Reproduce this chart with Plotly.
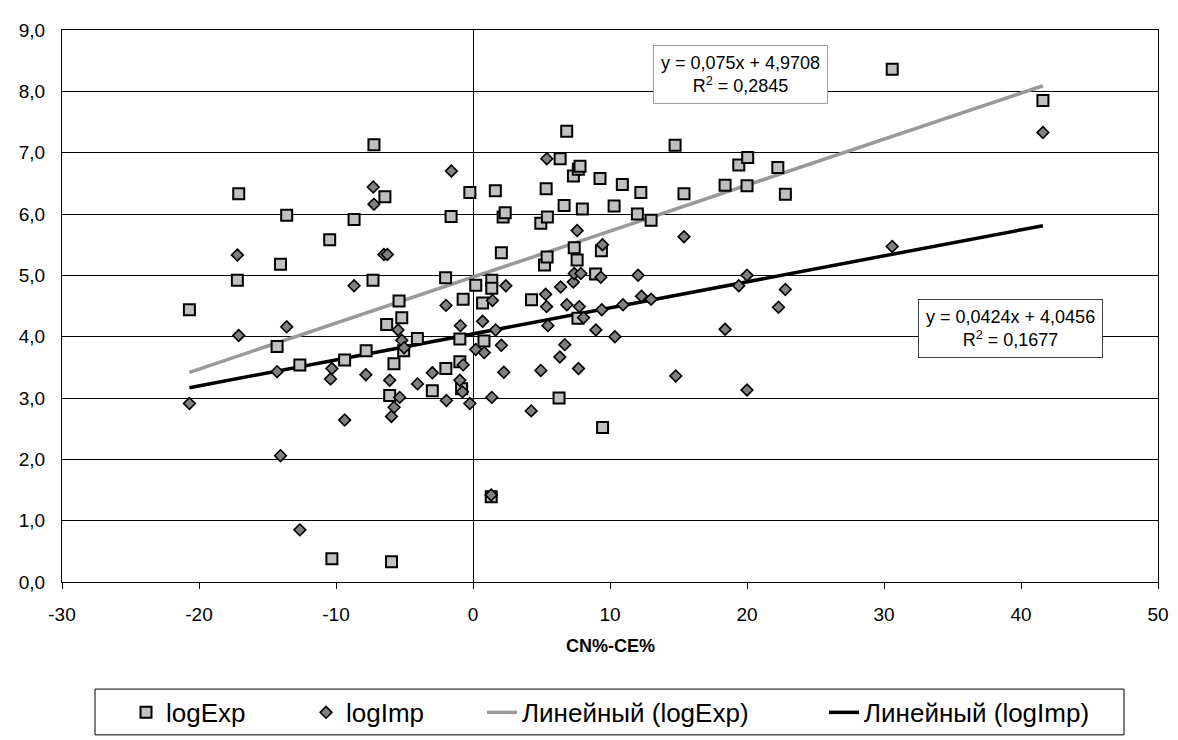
import plotly.graph_objects as go

# ---- data ----
exp_x = [-20.7, -17.1, -17.2, -14.05, -13.6, -14.3, -12.64, -10.46, -10.3, -9.37,
         -8.68, -7.8, -7.23, -7.3, -6.43, -6.3, -6.08, -5.95, -5.77, -5.4,
         -5.2, -5.06, -4.06, -2.97, -2.0, -1.98, -1.6, -0.96, -0.96, -0.83,
         -0.72, -0.23, 0.2, 0.7, 0.8, 1.37, 1.37, 1.33, 1.63, 2.07,
         2.2, 2.35, 4.27, 4.95, 5.22, 5.34, 5.41, 5.43, 6.28, 6.36,
         6.65, 6.84, 7.33, 7.39, 7.6, 7.66, 7.69, 7.81, 7.98, 8.95,
         9.27, 9.37, 9.46, 10.3, 10.9, 12.0, 12.25, 13.0, 14.75, 15.4,
         18.4, 19.4, 20.0, 20.05, 22.25, 22.8, 30.6, 41.6]
exp_y = [4.44, 6.33, 4.92, 5.18, 5.98, 3.84, 3.54, 5.58, 0.38, 3.62,
         5.91, 3.77, 7.13, 4.92, 6.28, 4.20, 3.04, 0.33, 3.56, 4.58,
         4.31, 3.77, 3.97, 3.12, 4.96, 3.48, 5.96, 3.96, 3.59, 3.15,
         4.61, 6.35, 4.84, 4.55, 3.93, 4.92, 4.79, 1.39, 6.38, 5.37,
         5.95, 6.02, 4.60, 5.85, 5.17, 6.41, 5.30, 5.95, 3.00, 6.90,
         6.14, 7.35, 6.62, 5.45, 5.25, 4.30, 6.73, 6.78, 6.08, 5.02,
         6.58, 5.40, 2.52, 6.13, 6.48, 6.00, 6.35, 5.90, 7.12, 6.33,
         6.47, 6.80, 6.46, 6.92, 6.76, 6.32, 8.36, 7.85]

imp_x = [-20.7, -17.2, -17.1, -14.3, -14.05, -13.6, -12.64, -10.3, -10.4, -9.37,
         -8.68, -7.82, -7.28, -7.23, -6.5, -6.25, -6.08, -5.95, -5.76, -5.47,
         -5.35, -5.2, -5.03, -4.05, -2.97, -1.97, -1.94, -1.58, -0.92, -0.96,
         -0.77, -0.72, -0.23, 0.2, 0.7, 0.82, 1.37, 1.42, 1.33, 1.65,
         2.07, 2.25, 2.4, 4.25, 4.95, 5.3, 5.39, 5.37, 5.47, 6.34,
         6.4, 6.7, 6.85, 7.32, 7.39, 7.6, 7.7, 7.76, 7.87, 8.07,
         8.97, 9.33, 9.4, 9.45, 10.36, 10.95, 12.05, 12.3, 13.0, 14.8,
         15.4, 18.4, 19.4, 20.0, 20.0, 22.3, 22.8, 30.6, 41.6]
imp_y = [2.91, 5.33, 4.02, 3.43, 2.06, 4.16, 0.85, 3.48, 3.31, 2.64,
         4.83, 3.38, 6.44, 6.16, 5.34, 5.34, 3.29, 2.70, 2.85, 4.11,
         3.01, 3.94, 3.82, 3.23, 3.41, 4.51, 2.96, 6.70, 4.18, 3.29,
         3.10, 3.54, 2.91, 3.79, 4.25, 3.74, 3.01, 4.59, 1.42, 4.11,
         3.86, 3.42, 4.83, 2.79, 3.45, 4.69, 6.90, 4.49, 4.18, 3.67,
         4.81, 3.87, 4.52, 4.89, 5.03, 5.73, 3.48, 4.49, 5.03, 4.31,
         4.11, 4.97, 4.44, 5.50, 4.00, 4.52, 5.00, 4.66, 4.61, 3.36,
         5.63, 4.12, 4.83, 5.00, 3.13, 4.48, 4.77, 5.47, 7.33]

# trend line coefficients (as printed on the chart)
exp_slope, exp_intercept, exp_r2 = 0.075, 4.9708, 0.2845
imp_slope, imp_intercept, imp_r2 = 0.0424, 4.0456, 0.1677

x_ticks = [-30, -20, -10, 0, 10, 20, 30, 40, 50]
x_tick_labels = ["-30", "-20", "-10", "0", "10", "20", "30", "40", "50"]
y_ticks = [0, 1, 2, 3, 4, 5, 6, 7, 8, 9]
y_tick_labels = ["0,0", "1,0", "2,0", "3,0", "4,0", "5,0", "6,0", "7,0", "8,0", "9,0"]

FONT = "Liberation Sans, Arial, sans-serif"

# layout geometry (pixels)
W, H = 1178, 740
ML, MR, MT, MB = 54, 28, 22, 151
PW, PH = W - ML - MR, H - MT - MB


def px_x(p):
    return (p - ML) / PW


def px_y(p):
    return (H - MB - p) / PH


def fmt(v):
    return str(v).replace(".", ",")


exp_line_x = [min(exp_x), max(exp_x)]
exp_line_y = [exp_slope * v + exp_intercept for v in exp_line_x]
imp_line_x = [min(imp_x), max(imp_x)]
imp_line_y = [imp_slope * v + imp_intercept for v in imp_line_x]

fig = go.Figure()

fig.add_trace(go.Scatter(
    x=exp_line_x, y=exp_line_y, mode="lines", name="Линейный (logExp)",
    line=dict(color="#999999", width=3.5), legend="legend3"))
fig.add_trace(go.Scatter(
    x=imp_line_x, y=imp_line_y, mode="lines", name="Линейный (logImp)",
    line=dict(color="#000000", width=3.5), legend="legend4"))

fig.add_trace(go.Scatter(
    x=exp_x, y=exp_y, mode="markers", name="logExp",
    marker=dict(symbol="square", size=11, color="#c0c0c0",
                line=dict(color="#000000", width=2)), legend="legend"))
fig.add_trace(go.Scatter(
    x=imp_x, y=imp_y, mode="markers", name="logImp",
    marker=dict(symbol="diamond", size=9, color="#808080",
                line=dict(color="#000000", width=1.6)), legend="legend2"))

fig.add_annotation(
    x=19.5, y=8.27, xref="x", yref="y", showarrow=False,
    text=f"y = {fmt(exp_slope)}x + {fmt(exp_intercept)}<br>R<sup>2</sup> = {fmt(exp_r2)}",
    font=dict(family=FONT, size=18, color="#000"), align="center",
    bgcolor="white", bordercolor="#a0a0a0", borderwidth=1, borderpad=7)
fig.add_annotation(
    x=39.26, y=4.13, xref="x", yref="y", showarrow=False,
    text=f"y = {fmt(imp_slope)}x + {fmt(imp_intercept)}<br>R<sup>2</sup> = {fmt(imp_r2)}",
    font=dict(family=FONT, size=18, color="#000"), align="center",
    bgcolor="white", bordercolor="#404040", borderwidth=1, borderpad=7)

# x-axis title
fig.add_annotation(
    x=0.5, y=px_y(655), xref="paper", yref="paper", showarrow=False,
    text="<b>CN%-CE%</b>", font=dict(family=FONT, size=18, color="#000"),
    xanchor="center", yanchor="middle")

# legend frame
fig.add_shape(type="rect", xref="paper", yref="paper",
              x0=px_x(87), x1=px_x(1116), y0=px_y(699), y1=px_y(746),
              line=dict(color="#000", width=1), fillcolor="white", layer="below")

leg_common = dict(orientation="h", yanchor="middle", y=px_y(723),
                  xanchor="left", bgcolor="rgba(0,0,0,0)", borderwidth=0,
                  font=dict(family=FONT, size=26, color="#000"))

fig.update_layout(
    width=W, height=H,
    margin=dict(l=ML, r=MR, t=MT, b=MB),
    paper_bgcolor="white", plot_bgcolor="white",
    font=dict(family=FONT, size=19, color="#000"),
    xaxis=dict(range=[-30, 50], tickvals=x_ticks, ticktext=x_tick_labels,
               ticks="outside", ticklen=6, tickcolor="#000",
               ticklabelstandoff=9,
               showgrid=False, showline=True, mirror=True,
               linecolor="#000", linewidth=1, zeroline=True,
               zerolinecolor="#000", zerolinewidth=1,
               tickfont=dict(family=FONT, size=19)),
    yaxis=dict(range=[0, 9], tickvals=y_ticks, ticktext=y_tick_labels,
               showgrid=True, gridcolor="#000", gridwidth=1,
               showline=True, mirror=True, linecolor="#000", linewidth=1,
               zeroline=False, ticks="", ticklabelstandoff=12,
               tickfont=dict(family=FONT, size=19)),
    legend=dict(x=px_x(118), **leg_common),
    legend2=dict(x=px_x(298), **leg_common),
    legend3=dict(x=px_x(474), **leg_common),
    legend4=dict(x=px_x(816), **leg_common),
    showlegend=True,
)

fig.write_html("out.html")
